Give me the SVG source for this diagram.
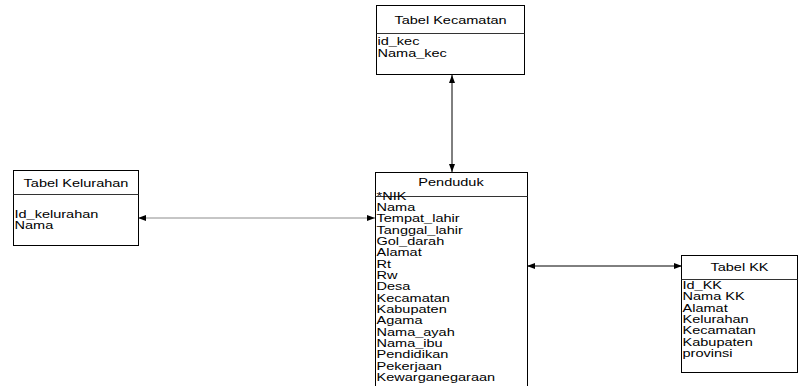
<svg xmlns="http://www.w3.org/2000/svg" width="800" height="386" viewBox="0 0 800 386">
  <style>
    .box { fill: #ffffff; stroke: #000000; stroke-width: 1; }
    .sep { stroke: #333333; stroke-width: 1; }
    .t { font-family: "Liberation Sans", Arial, sans-serif; font-size: 10.6px; fill: #000000; }
    .c { text-anchor: middle; }
    .link { fill: none; stroke: #000000; stroke-width: 1; marker-start: url(#head); marker-end: url(#head); }
    .link.soft { stroke: #8c8c8c; }
  </style>
  <defs>
    <marker id="head" viewBox="0 0 8 6" refX="8" refY="3" markerWidth="8" markerHeight="6" markerUnits="userSpaceOnUse" orient="auto-start-reverse">
      <path d="M0,0 L8,3 L0,6 Z" fill="#000000"/>
    </marker>
  </defs>
  <rect width="800" height="386" fill="#ffffff"/>

  <!-- relationships -->
  <g id="connectors">
    <line class="link" x1="452" y1="75" x2="452" y2="172"/>
    <line class="link soft" x1="138" y1="218" x2="375" y2="218"/>
    <line class="link" x1="527" y1="266" x2="682" y2="266"/>
  </g>

  <g id="tabel-kecamatan">
    <rect class="box" x="376.5" y="5.5" width="148" height="69"/>
    <line class="sep" x1="376.5" y1="33.5" x2="524.5" y2="33.5"/>
    <g transform="translate(450.5,0) scale(1.37,1)"><text class="t c" x="0" y="24">Tabel Kecamatan</text></g>
    <g transform="translate(377.5,0) scale(1.37,1)">
      <text class="t" x="0" y="45.5">id_kec</text>
      <text class="t" x="0" y="56.8">Nama_kec</text>
    </g>
  </g>

  <g id="tabel-kelurahan">
    <rect class="box" x="13.5" y="170.5" width="125" height="75"/>
    <line class="sep" x1="13.5" y1="194.5" x2="138.5" y2="194.5"/>
    <g transform="translate(76,0) scale(1.37,1)"><text class="t c" x="0" y="187">Tabel Kelurahan</text></g>
    <g transform="translate(14.5,0) scale(1.37,1)">
      <text class="t" x="0" y="217.8">Id_kelurahan</text>
      <text class="t" x="0" y="229.1">Nama</text>
    </g>
  </g>

  <g id="penduduk">
    <rect class="box" x="375.5" y="172.5" width="152" height="220"/>
    <line class="sep" x1="375.5" y1="196.5" x2="527.5" y2="196.5"/>
    <g transform="translate(451,0) scale(1.37,1)"><text class="t c" x="0" y="186">Penduduk</text></g>
    <g transform="translate(376.5,0) scale(1.37,1)">
      <text class="t" x="0" y="199.7">*NIK</text>
      <text class="t" x="0" y="211">Nama</text>
      <text class="t" x="0" y="222.3">Tempat_lahir</text>
      <text class="t" x="0" y="233.7">Tanggal_lahir</text>
      <text class="t" x="0" y="245">Gol_darah</text>
      <text class="t" x="0" y="256.3">Alamat</text>
      <text class="t" x="0" y="267.7">Rt</text>
      <text class="t" x="0" y="279">Rw</text>
      <text class="t" x="0" y="290.3">Desa</text>
      <text class="t" x="0" y="301.7">Kecamatan</text>
      <text class="t" x="0" y="313">Kabupaten</text>
      <text class="t" x="0" y="324.3">Agama</text>
      <text class="t" x="0" y="335.7">Nama_ayah</text>
      <text class="t" x="0" y="347">Nama_ibu</text>
      <text class="t" x="0" y="358.3">Pendidikan</text>
      <text class="t" x="0" y="369.7">Pekerjaan</text>
      <text class="t" x="0" y="381">Kewarganegaraan</text>
    </g>
  </g>

  <g id="tabel-kk">
    <rect class="box" x="681.5" y="255.5" width="116" height="117"/>
    <line class="sep" x1="681.5" y1="279.5" x2="797.5" y2="279.5"/>
    <g transform="translate(739.5,0) scale(1.37,1)"><text class="t c" x="0" y="271">Tabel KK</text></g>
    <g transform="translate(682.5,0) scale(1.37,1)">
      <text class="t" x="0" y="289">Id_KK</text>
      <text class="t" x="0" y="300.3">Nama KK</text>
      <text class="t" x="0" y="311.7">Alamat</text>
      <text class="t" x="0" y="323">Kelurahan</text>
      <text class="t" x="0" y="334.3">Kecamatan</text>
      <text class="t" x="0" y="345.7">Kabupaten</text>
      <text class="t" x="0" y="357">provinsi</text>
    </g>
  </g>
</svg>
